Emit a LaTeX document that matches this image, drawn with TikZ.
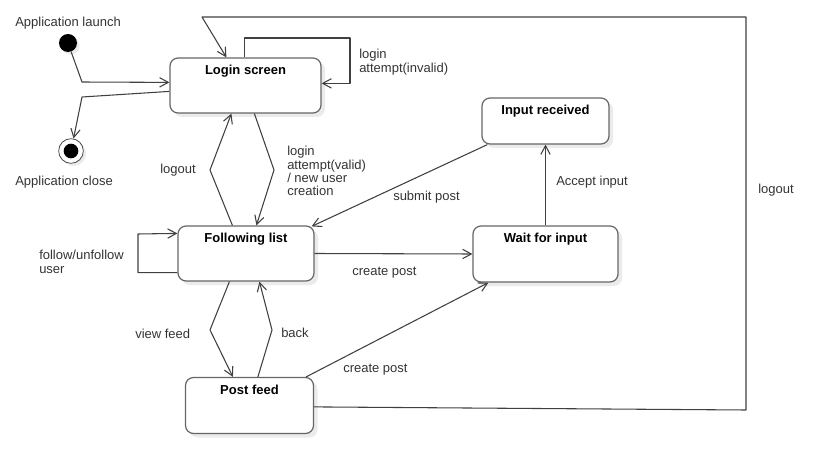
\documentclass[tikz,border=0pt]{standalone}
\usepackage{fontspec}
\setmainfont{Liberation Sans}
\usetikzlibrary{arrows.meta,calc,shadows}

\begin{document}
\begin{tikzpicture}[x=0.75pt,y=-0.75pt,>={Straight Barb[length=6.5pt,width=7pt]}]
    \tikzset{state/.style = {shape=rectangle, rounded corners=6pt, draw=black!60, line width=0.9pt, fill=white,
        drop shadow={shadow xshift=3pt, shadow yshift=-3pt, fill=black!8, opacity=1},
        font=\fontsize{9.75}{10}\selectfont\bfseries, inner sep=0pt, text height=12.75pt}}
    \tikzset{trans/.style = {draw=black!75, line width=0.8pt, line join=round, ->}}
    \tikzset{lbl/.style = {font=\fontsize{9.75}{10}\selectfont, text=black!80, align=left, inner sep=0pt}}
    \useasboundingbox (0,0) rectangle (832,474);

    % states
    \node[circle, fill=black, inner sep=0pt, minimum size=13.5pt,
        drop shadow={shadow xshift=2pt, shadow yshift=-2pt, fill=black!8, opacity=1}] (start) at (68,43) {};
    \node[circle, draw=black!70, line width=0.6pt, fill=white, inner sep=0pt, minimum size=18.5pt,
        drop shadow={shadow xshift=2pt, shadow yshift=-2pt, fill=black!8, opacity=1}] (close) at (71,151) {};
    \node[circle, fill=black, inner sep=0pt, minimum size=11pt] (closein) at (71,151) {};
    \node[state, minimum width=113.25pt, text depth=28.5pt] (login) at (245.5,85.5) {Login screen};
    \node[state, minimum width=102pt, text depth=28.5pt] (follow) at (246,253.5) {Following list};
    \node[state, minimum width=95.25pt, text depth=21.75pt] (inrec) at (545.5,121) {Input received};
    \node[state, minimum width=108.75pt, text depth=29.25pt] (wait) at (545.5,254) {Wait for input};
    \node[state, minimum width=96pt, text depth=29.25pt] (post) at (249.5,405.5) {Post feed};

    % labels
    \node[lbl, anchor=base west] (tLaunch) at (15,27) {Application launch};
    \node[lbl, anchor=base west] (tClose) at (15,186) {Application close};
    \node[lbl, anchor=north west] (tInvalid) at (359,49) {login\\attempt(invalid)};
    \node[lbl, anchor=base west] (tLogout) at (160,174) {logout};
    \node[lbl, anchor=north west] (tValid) at (287,146) {login\\attempt(valid)\\/ new user\\creation};
    \node[lbl, anchor=base west] (tSubmit) at (393,201) {submit post};
    \node[lbl, anchor=base west] (tCreate) at (352,275) {create post};
    \node[lbl, anchor=north west] (tFollow) at (39,250) {follow/unfollow\\user};
    \node[lbl, anchor=base west] (tAccept) at (556,186) {Accept input};
    \node[lbl, anchor=base west] (tView) at (135,338) {view feed};
    \node[lbl, anchor=base west] (tBack) at (281,337) {back};
    \node[lbl, anchor=base west] (tCreatePost) at (343,372) {create post};
    \node[lbl, anchor=base west] (tLogoutAll) at (758,194) {logout};

    % transitions
    \draw[trans] (start) -- (82,82) -- ($(login.north west)+(0,25)$);
    \draw[trans] ($(login.north west)+(0,34)$) -- (82,97) -- (close);
    \draw[trans] ($(login.north west)+(75,0)$) |- (350,38) |- ($(login.north east)+(0,26)$);
    \draw[trans] ($(follow.north west)+(55,0)$) -- (210,170) -- ($(login.south west)+(62,0)$);
    \draw[trans] ($(login.south west)+(85,0)$) -- (274,170) -- ($(follow.north west)+(79,0)$);
    \draw[trans] ($(follow.south west)+(0,-9)$) -| (138,234) -- ($(follow.north west)+(0,8)$);
    \draw[trans] ($(inrec.south west)+(6,0)$) -- ($(follow.north east)+(-3,1)$);
    \draw[trans] (follow.east) -- (wait.west);
    \draw[trans] (wait.north) -- (inrec.south);
    \draw[trans] ($(follow.south west)+(52,0)$) -- (210,330) -- ($(post.north west)+(48,0)$);
    \draw[trans] ($(post.north west)+(73,0)$) -- (272,330) -- ($(follow.south west)+(82,0)$);
    \draw[trans] ($(post.north east)+(-8,0)$) -- ($(wait.south west)+(16,0)$);
    \draw[trans] ($(post.north east)+(0,30)$) -- (746,410) -- (746,17) -- (202,17) -- ($(login.north west)+(57,0)$);
\end{tikzpicture}
\end{document}
